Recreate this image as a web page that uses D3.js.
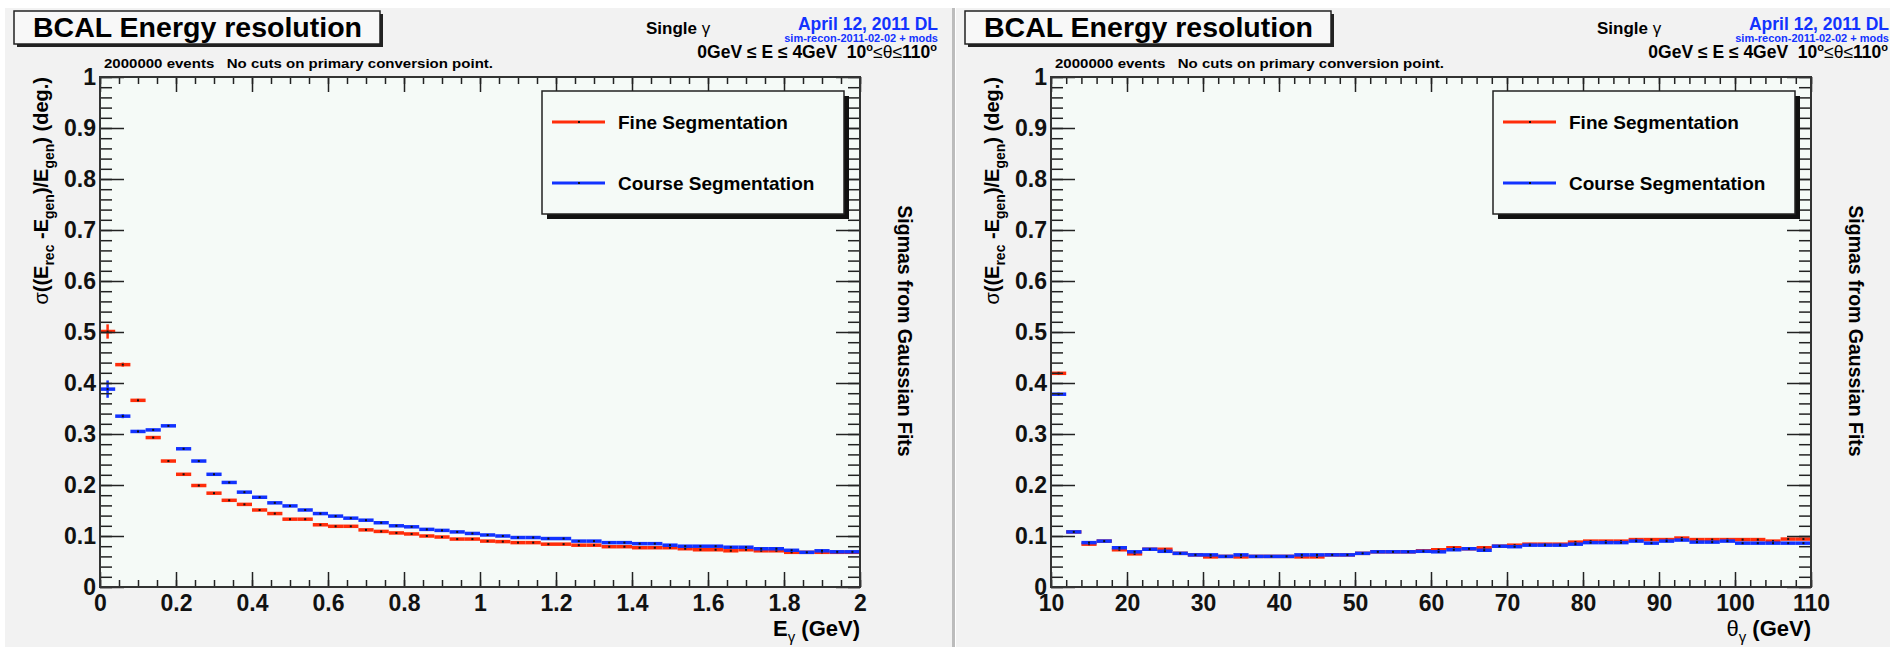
<!DOCTYPE html>
<html>
<head>
<meta charset="utf-8">
<title>BCAL Energy resolution</title>
<style>
  body { margin: 0; background: #fff; }
  svg { display: block; font-family: "Liberation Sans", Arial, sans-serif; }
  .pre { white-space: pre; }
</style>
</head>
<body>
<svg width="1890" height="647"></svg>
<script src="https://d3js.org/d3.v7.min.js"></script>
<script>

// ---- data (one value per bin) ----
// left pad: 50 bins of E_gamma over 0..2 GeV
var energyRange = [0, 2];
var fineByEnergy = [
  0.501, 0.436, 0.366, 0.293, 0.247, 0.221, 0.199, 0.184, 0.170, 0.162,
  0.151, 0.144, 0.133, 0.133, 0.122, 0.119, 0.119, 0.112, 0.109, 0.106,
  0.104, 0.100, 0.098, 0.094, 0.094, 0.090, 0.089, 0.087, 0.087, 0.084,
  0.084, 0.082, 0.082, 0.079, 0.079, 0.077, 0.077, 0.077, 0.075, 0.073,
  0.073, 0.071, 0.073, 0.071, 0.071, 0.068, 0.068, 0.068, 0.068, 0.068
];
var courseByEnergy = [
  0.388, 0.335, 0.305, 0.308, 0.316, 0.271, 0.247, 0.221, 0.205, 0.186,
  0.176, 0.165, 0.159, 0.151, 0.144, 0.139, 0.135, 0.131, 0.126, 0.120,
  0.118, 0.113, 0.111, 0.108, 0.105, 0.102, 0.100, 0.097, 0.097, 0.095,
  0.095, 0.090, 0.090, 0.087, 0.087, 0.085, 0.085, 0.082, 0.080, 0.080,
  0.080, 0.078, 0.078, 0.075, 0.075, 0.072, 0.068, 0.071, 0.069, 0.069
];
// errors of the first bins (the rest are too small to see)
var fineErrEnergy = [0.014, 0.004, 0.003];
var courseErrEnergy = [0.017, 0.004, 0.003];

// right pad: 50 bins of theta_gamma over 10..110
var thetaRange = [10, 110];
var fineByTheta = [
  0.419, 0.108, 0.084, 0.090, 0.073, 0.065, 0.074, 0.074, 0.066, 0.063,
  0.059, 0.060, 0.059, 0.060, 0.060, 0.060, 0.059, 0.059, 0.063, 0.063,
  0.066, 0.069, 0.069, 0.069, 0.071, 0.073, 0.077, 0.075, 0.077, 0.080,
  0.082, 0.084, 0.084, 0.084, 0.088, 0.090, 0.090, 0.090, 0.093, 0.093,
  0.093, 0.096, 0.093, 0.093, 0.093, 0.093, 0.093, 0.090, 0.094, 0.094
];
var courseByTheta = [
  0.378, 0.108, 0.087, 0.090, 0.077, 0.069, 0.074, 0.070, 0.066, 0.063,
  0.063, 0.060, 0.063, 0.060, 0.060, 0.060, 0.063, 0.063, 0.063, 0.063,
  0.066, 0.069, 0.069, 0.069, 0.070, 0.069, 0.073, 0.075, 0.072, 0.080,
  0.079, 0.082, 0.082, 0.082, 0.084, 0.087, 0.087, 0.087, 0.090, 0.086,
  0.090, 0.092, 0.088, 0.088, 0.090, 0.086, 0.086, 0.086, 0.086, 0.086
];
var fineErrTheta = [0.003];
var courseErrTheta = [0.003];

var energyTicks = [0, 0.2, 0.4, 0.6, 0.8, 1, 1.2, 1.4, 1.6, 1.8, 2];
var thetaTicks = [10, 20, 30, 40, 50, 60, 70, 80, 90, 100, 110];
var yTicks = [0, 0.1, 0.2, 0.3, 0.4, 0.5, 0.6, 0.7, 0.8, 0.9, 1];

var legendNames = ["Fine Segmentation", "Course Segmentation"];
var red = "#ff2d0a", blue = "#1232ff";

var svg = d3.select("svg");

// pads
svg.append("rect").attr("x", 5).attr("y", 8).attr("width", 947).attr("height", 639).attr("fill", "#f2f2f2");
svg.append("rect").attr("x", 956).attr("y", 8).attr("width", 934).attr("height", 639).attr("fill", "#f2f2f2");
svg.append("rect").attr("x", 952).attr("y", 8).attr("width", 3).attr("height", 639).attr("fill", "#bcbcbc");

function fmt(d) { return String(+d.toFixed(1)); }

function drawPanel(off, cfg) {
  var g = svg.append("g").attr("transform", "translate(" + off + ",0)");
  var L = 100, R = 860, T = 77, B = 587;

  var x = d3.scaleLinear().domain(cfg.range).range([L, R]);
  var y = d3.scaleLinear().domain([0, 1]).range([B, T]);

  // title box
  g.append("rect").attr("x", 17).attr("y", 14).attr("width", 366).attr("height", 33).attr("fill", "#222");
  g.append("rect").attr("x", 14).attr("y", 11).attr("width", 366).attr("height", 33)
    .attr("fill", "#f8f8f8").attr("stroke", "#222").attr("stroke-width", 1.5);
  g.append("text").attr("x", 33).attr("y", 37).attr("font-size", 28).attr("font-weight", "bold")
    .attr("textLength", 329).attr("lengthAdjust", "spacingAndGlyphs")
    .text("BCAL Energy resolution");

  // header texts
  var t1 = g.append("text").attr("x", 646).attr("y", 34).attr("font-size", 17).attr("font-weight", "bold");
  t1.append("tspan").text("Single ");
  t1.append("tspan").attr("font-weight", "normal").text("γ");
  g.append("text").attr("x", 938).attr("y", 30).attr("text-anchor", "end").attr("font-size", 17.5)
    .attr("font-weight", "bold").attr("fill", blue).text("April 12, 2011 DL");
  g.append("text").attr("x", 938).attr("y", 42).attr("text-anchor", "end").attr("font-size", 11)
    .attr("font-weight", "bold").attr("fill", blue).text("sim-recon-2011-02-02 + mods");
  var t2 = g.append("text").attr("x", 937).attr("y", 58).attr("text-anchor", "end")
    .attr("font-size", 17.5).attr("font-weight", "bold").attr("class", "pre");
  t2.append("tspan").text("0GeV ≤ E ≤ 4GeV  10");
  t2.append("tspan").attr("font-size", 11).attr("dy", -7).text("o");
  t2.append("tspan").attr("dy", 7).attr("font-weight", "normal").text("≤θ≤");
  t2.append("tspan").text("110");
  t2.append("tspan").attr("font-size", 11).attr("dy", -7).text("o");
  g.append("text").attr("x", 104).attr("y", 68).attr("font-size", 13.5).attr("font-weight", "bold")
    .attr("class", "pre").attr("textLength", 389).attr("lengthAdjust", "spacingAndGlyphs")
    .text("2000000 events   No cuts on primary conversion point.");

  // frame
  g.append("rect").attr("x", L).attr("y", T).attr("width", R - L).attr("height", B - T).attr("fill", "#f5faf7");

  // histograms
  function hist(vals, errs, color) {
    var n = vals.length, w = (cfg.range[1] - cfg.range[0]) / n;
    var h = g.append("g");
    h.selectAll("line.bin").data(vals).join("line").attr("class", "bin")
      .attr("x1", function(d, i) { return x(cfg.range[0] + i * w); })
      .attr("x2", function(d, i) { return x(cfg.range[0] + (i + 1) * w); })
      .attr("y1", function(d) { return y(d); })
      .attr("y2", function(d) { return y(d); })
      .attr("stroke", color).attr("stroke-width", 3.5);
    h.selectAll("line.err").data(vals).join("line").attr("class", "err")
      .attr("x1", function(d, i) { return x(cfg.range[0] + (i + 0.5) * w); })
      .attr("x2", function(d, i) { return x(cfg.range[0] + (i + 0.5) * w); })
      .attr("y1", function(d, i) { return y(d - (errs[i] || 0.002)); })
      .attr("y2", function(d, i) { return y(d + (errs[i] || 0.002)); })
      .attr("stroke", color).attr("stroke-width", 2.5);
    h.selectAll("rect").data(vals).join("rect")
      .attr("x", function(d, i) { return x(cfg.range[0] + (i + 0.5) * w) - 1; })
      .attr("y", function(d) { return y(d) - 1; })
      .attr("width", 2).attr("height", 2).attr("fill", "#111");
  }
  hist(cfg.fine, cfg.fineErr, red);
  hist(cfg.course, cfg.courseErr, blue);

  // axes (ticks on all four sides, pointing inwards)
  var xMinor = d3.range(cfg.range[0], cfg.range[1] + 1e-9, cfg.xMinorStep);
  var yMinor = d3.range(0, 1.0001, 0.02);
  function style(sel) {
    sel.select(".domain").remove();
    sel.selectAll("line").attr("stroke", "#222").attr("stroke-width", 1.5);
    sel.selectAll("text").filter(function() { return !this.textContent; }).remove();
    sel.selectAll("text").attr("font-size", 23).attr("font-weight", "bold")
      .attr("fill", "#111").attr("font-family", "Liberation Sans, Arial, sans-serif");
  }
  g.append("g").attr("transform", "translate(0," + B + ")")
    .call(d3.axisBottom(x).tickValues(xMinor).tickSizeInner(-7).tickSizeOuter(0).tickFormat("")).call(style);
  g.append("g").attr("transform", "translate(0," + B + ")")
    .call(d3.axisBottom(x).tickValues(cfg.ticks).tickSizeInner(-15).tickSizeOuter(0).tickPadding(8).tickFormat(fmt)).call(style);
  g.append("g").attr("transform", "translate(0," + T + ")")
    .call(d3.axisTop(x).tickValues(xMinor).tickSizeInner(-7).tickSizeOuter(0).tickFormat("")).call(style);
  g.append("g").attr("transform", "translate(0," + T + ")")
    .call(d3.axisTop(x).tickValues(cfg.ticks).tickSizeInner(-15).tickSizeOuter(0).tickFormat("")).call(style);
  g.append("g").attr("transform", "translate(" + L + ",0)")
    .call(d3.axisLeft(y).tickValues(yMinor).tickSizeInner(-12).tickSizeOuter(0).tickFormat("")).call(style);
  g.append("g").attr("transform", "translate(" + L + ",0)")
    .call(d3.axisLeft(y).tickValues(yTicks).tickSizeInner(-24).tickSizeOuter(0).tickPadding(4).tickFormat(fmt)).call(style);
  g.append("g").attr("transform", "translate(" + R + ",0)")
    .call(d3.axisRight(y).tickValues(yMinor).tickSizeInner(-12).tickSizeOuter(0).tickFormat("")).call(style);
  g.append("g").attr("transform", "translate(" + R + ",0)")
    .call(d3.axisRight(y).tickValues(yTicks).tickSizeInner(-24).tickSizeOuter(0).tickFormat("")).call(style);

  g.append("rect").attr("x", L).attr("y", T).attr("width", R - L).attr("height", B - T)
    .attr("fill", "none").attr("stroke", "#333").attr("stroke-width", 2);

  // axis titles
  var xt = g.append("text").attr("x", R).attr("y", 636).attr("text-anchor", "end")
    .attr("font-size", 22).attr("font-weight", "bold");
  xt.append("tspan").attr("font-weight", cfg.xSym === "θ" ? "normal" : "bold").text(cfg.xSym);
  xt.append("tspan").attr("font-size", 15).attr("font-weight", "normal").attr("dy", 6).text("γ");
  xt.append("tspan").attr("dy", -6).attr("class", "pre").text(" (GeV)");

  var yt = g.append("text").attr("transform", "translate(48," + T + ") rotate(-90)")
    .attr("text-anchor", "end").attr("font-size", 20).attr("font-weight", "bold");
  yt.append("tspan").attr("font-weight", "normal").text("σ");
  yt.append("tspan").text("((E");
  yt.append("tspan").attr("font-size", 14).attr("dy", 6).text("rec");
  yt.append("tspan").attr("dy", -6).attr("class", "pre").text(" -E");
  yt.append("tspan").attr("font-size", 14).attr("dy", 6).text("gen");
  yt.append("tspan").attr("dy", -6).text(")/E");
  yt.append("tspan").attr("font-size", 14).attr("dy", 6).text("gen");
  yt.append("tspan").attr("dy", -6).attr("class", "pre").text(") (deg.)");

  g.append("text").attr("transform", "translate(898,331) rotate(90)").attr("text-anchor", "middle")
    .attr("font-size", 19.5).attr("font-weight", "bold").text("Sigmas from Gaussian Fits");

  // legend
  g.append("rect").attr("x", 547).attr("y", 96).attr("width", 302).attr("height", 123).attr("fill", "#111");
  g.append("rect").attr("x", 542).attr("y", 91).attr("width", 302).attr("height", 123)
    .attr("fill", "#f5faf7").attr("stroke", "#222").attr("stroke-width", 1.5);
  var items = [{ name: legendNames[0], color: red }, { name: legendNames[1], color: blue }];
  var leg = g.selectAll("g.leg").data(items).join("g").attr("class", "leg")
    .attr("transform", function(d, i) { return "translate(0," + (122 + i * 61) + ")"; });
  leg.append("line").attr("x1", 552).attr("x2", 605).attr("stroke", function(d) { return d.color; }).attr("stroke-width", 3);
  leg.append("rect").attr("x", 578).attr("y", -1).attr("width", 2).attr("height", 2).attr("fill", "#111");
  leg.append("text").attr("x", 618).attr("y", 7).attr("font-size", 19).attr("font-weight", "bold")
    .text(function(d) { return d.name; });
}

drawPanel(0, {
  range: energyRange, ticks: energyTicks, xMinorStep: 0.05, xSym: "E",
  fine: fineByEnergy, course: courseByEnergy, fineErr: fineErrEnergy, courseErr: courseErrEnergy
});
drawPanel(951, {
  range: thetaRange, ticks: thetaTicks, xMinorStep: 2, xSym: "θ",
  fine: fineByTheta, course: courseByTheta, fineErr: fineErrTheta, courseErr: courseErrTheta
});
</script>
</body>
</html>
